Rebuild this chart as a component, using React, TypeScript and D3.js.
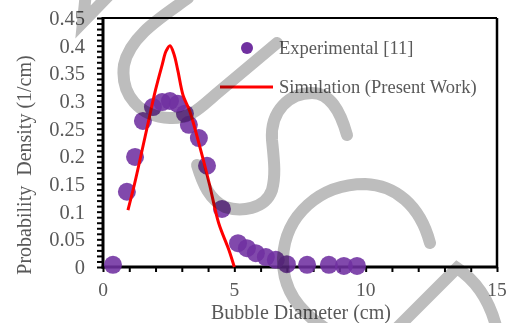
import React, { useEffect, useRef } from 'react'
import * as d3 from 'd3'

// experimental points [11]
const expX = [0.38, 0.91, 1.22, 1.52, 1.9, 2.25, 2.55, 2.85, 3.12, 3.27, 3.65, 3.96, 4.53, 5.14, 5.48, 5.82, 6.2, 6.58, 7.0, 7.77, 8.6, 9.17, 9.67]
const expY = [0.004, 0.136, 0.199, 0.264, 0.289, 0.298, 0.3, 0.295, 0.277, 0.257, 0.233, 0.183, 0.105, 0.043, 0.034, 0.025, 0.018, 0.013, 0.005, 0.004, 0.004, 0.002, 0.002]

// simulation (present work)
const simX = [0.95, 1.2, 1.6, 2.0, 2.25, 2.4, 2.55, 2.7, 2.85, 3.05, 3.3, 3.7, 4.05, 4.4, 4.8, 5.0]
const simY = [0.103, 0.15, 0.235, 0.32, 0.365, 0.39, 0.4, 0.385, 0.355, 0.31, 0.282, 0.215, 0.15, 0.08, 0.03, 0.0]

const xTicks = [0, 5, 10, 15]
const yTicks = [0, 0.05, 0.1, 0.15, 0.2, 0.25, 0.3, 0.35, 0.4, 0.45]
const yTickLabels = ['0', '0.05', '0.1', '0.15', '0.2', '0.25', '0.3', '0.35', '0.4', '0.45']

const legendLabels = ['Experimental [11]', 'Simulation (Present Work)']

const FONT = '"Liberation Serif", "Times New Roman", serif'
const GREY = '#595959'

export default function App() {
  const ref = useRef<SVGSVGElement>(null)

  useEffect(() => {
    const svg = d3.select(ref.current)
    svg.selectAll('*').remove()

    const left = 103, right = 497, top = 18, bottom = 267

    const x = d3.scaleLinear().domain([0, 15]).range([left, right])
    const y = d3.scaleLinear().domain([0, 0.45]).range([bottom, top])

    // minor ticks
    const xAxis = d3.axisBottom(x)
      .tickValues(d3.range(0, 16, 1))
      .tickSize(5)
      .tickFormat(() => '')
    const gx = svg.append('g').attr('transform', `translate(0,${bottom})`).call(xAxis)
    gx.select('.domain').remove()
    gx.selectAll('line').attr('stroke', '#000').attr('stroke-width', 2)

    const yAxis = d3.axisLeft(y)
      .tickValues(d3.range(0, 46).map(i => i / 100))
      .tickSize(6)
      .tickFormat(() => '')
    const gy = svg.append('g').attr('transform', `translate(${left},0)`).call(yAxis)
    gy.select('.domain').remove()
    gy.selectAll('line').attr('stroke', '#000').attr('stroke-width', 2)

    // frame
    svg.append('line').attr('x1', left).attr('x2', right).attr('y1', top).attr('y2', top)
      .attr('stroke', '#000').attr('stroke-width', 2)
    svg.append('line').attr('x1', right).attr('x2', right).attr('y1', top).attr('y2', bottom)
      .attr('stroke', '#000').attr('stroke-width', 2.5)
    svg.append('line').attr('x1', left).attr('x2', left).attr('y1', top - 1).attr('y2', bottom + 1.5)
      .attr('stroke', '#000').attr('stroke-width', 3)
    svg.append('line').attr('x1', left - 1.5).attr('x2', right + 1).attr('y1', bottom).attr('y2', bottom)
      .attr('stroke', '#000').attr('stroke-width', 3)

    // tick labels
    svg.append('g').selectAll('text').data(xTicks).enter().append('text')
      .attr('x', d => x(d)).attr('y', 296)
      .attr('text-anchor', 'middle')
      .attr('font-family', FONT).attr('font-size', 19.5).attr('fill', GREY)
      .text(d => String(d))

    svg.append('g').selectAll('text').data(yTicks).enter().append('text')
      .attr('x', 85).attr('y', d => y(d) + 7)
      .attr('text-anchor', 'end')
      .attr('font-family', FONT).attr('font-size', 20.5).attr('fill', GREY)
      .text((d, i) => yTickLabels[i])

    // axis titles
    svg.append('text')
      .attr('x', 301).attr('y', 318.5)
      .attr('text-anchor', 'middle')
      .attr('font-family', FONT).attr('font-size', 20).attr('fill', GREY)
      .text('Bubble Diameter (cm)')
    svg.append('text')
      .attr('transform', 'translate(31,165) rotate(-90)')
      .attr('text-anchor', 'middle')
      .attr('font-family', FONT).attr('font-size', 20).attr('fill', GREY)
      .attr('xml:space', 'preserve')
      .text('Probability  Density (1/cm)')

    // experimental
    svg.append('g').selectAll('circle').data(expX).enter().append('circle')
      .attr('cx', d => x(d)).attr('cy', (d, i) => y(expY[i]))
      .attr('r', 9)
      .attr('fill', '#7030a0').attr('opacity', 0.88)

    // simulation
    const line = d3.line<number>()
      .x(d => x(d)).y((d, i) => y(simY[i]))
      .curve(d3.curveCatmullRom)
    svg.append('path').attr('d', line(simX))
      .attr('fill', 'none').attr('stroke', '#ff0000').attr('stroke-width', 3)

    // legend
    svg.append('circle').attr('cx', 247).attr('cy', 48).attr('r', 6).attr('fill', '#7030a0')
    svg.append('line').attr('x1', 220).attr('x2', 273).attr('y1', 87).attr('y2', 87)
      .attr('stroke', '#ff0000').attr('stroke-width', 3)
    svg.append('g').selectAll('text').data(legendLabels).enter().append('text')
      .attr('x', 279).attr('y', (d, i) => (i === 0 ? 48 : 87) + 6)
      .attr('font-family', FONT).attr('font-size', 18.5).attr('fill', GREY)
      .text(d => d)

    // watermark strokes
    const wm = svg.append('g').style('mix-blend-mode', 'multiply')
      .attr('fill', 'none').attr('stroke', '#bdbdbd').attr('stroke-width', 12)
    const marks = [
      'M86,-8 L83,22 L112,-8',
      'M188,-2 C165,15 130,35 124,65 C120,95 140,117 170,118 C190,119 200,108 215,95 L277,43',
      'M347,135 C340,110 330,93 312,93 C290,93 270,110 272,140 C274,160 276,175 272,190 C265,210 240,212 225,207 C210,200 203,185 197,165',
      'M430,243 C420,205 395,185 365,184 C320,184 285,215 283,258 C282,290 300,312 325,328',
      'M395,330 L457,268 C475,280 490,300 497,330'
    ]
    wm.selectAll('path').data(marks).enter().append('path')
      .attr('d', d => d)
      .attr('stroke-linecap', (d, i) => i === 0 ? 'butt' : 'round')
  }, [])

  return (
    <svg ref={ref} width={511} height={323}
      style={{ position: 'absolute', left: 0, top: 0, background: '#fff' }} />
  )
}
